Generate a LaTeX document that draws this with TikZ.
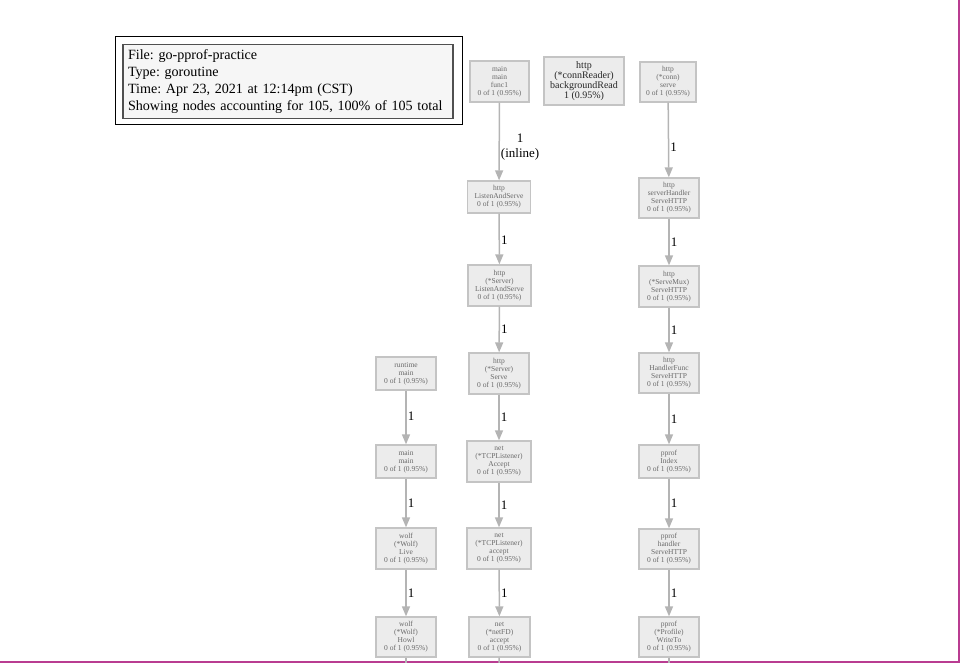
\documentclass[tikz,border=0pt]{standalone}
\usepackage{fontspec}
\setmainfont{Liberation Serif}
\usetikzlibrary{arrows.meta}
\definecolor{edgegray}{RGB}{180,180,180}
\definecolor{nodefill}{RGB}{236,236,236}
\definecolor{nodeborder}{RGB}{196,196,196}
\definecolor{nodetext}{RGB}{105,105,105}
\definecolor{pagemag}{RGB}{185,60,145}
\definecolor{legfill}{RGB}{246,246,246}
\definecolor{legborder}{RGB}{80,80,80}
\frenchspacing
\begin{document}
\begin{tikzpicture}[x=1pt,y=-1pt,
  fn/.style={draw=nodeborder, fill=nodefill, line width=1.3pt, text=nodetext,
    font=\fontsize{7.5}{8}\selectfont, align=center, inner sep=0pt, minimum width=60pt},
  callarrow/.style={draw=edgegray, line width=1.5pt, -{Triangle[width=8pt,length=10pt]}},
  tailline/.style={draw=edgegray, line width=1.5pt},
  lbl/.style={anchor=west, inner sep=1pt, font=\fontsize{13}{15}\selectfont, text=black, align=center}]
\useasboundingbox (0,0) rectangle (960,663);
% page border
\coordinate (pg0) at (959,0);
\coordinate (pg1) at (959,662);
\coordinate (pg2) at (0,662);
\draw[pagemag, line width=1.5pt] (pg0) -- (pg1) -- (pg2);
% legend
\node[draw=black, line width=1pt, minimum width=347pt, minimum height=88pt, inner sep=0pt] (legout) at (288.5,81) {};
\node[draw=legborder, fill=legfill, line width=1.5pt, minimum height=74pt, text width=320pt,
  inner xsep=5pt, inner ysep=0pt, align=left, font=\fontsize{14.1}{16.8}\selectfont] (legin) at (288,81.5)
  {File: go-pprof-practice\\Type: goroutine\\Time: Apr 23, 2021 at 12:14pm (CST)\\Showing nodes accounting for 105, 100\% of 105 total};
% middle column
\node[fn, minimum width=59pt, minimum height=41pt] (m1) at (499.5,81.5) {main\\main\\func1\\0 of 1 (0.95\%)};
\node[fn, minimum width=63pt, minimum height=32pt] (m2) at (499,197) {http\\ListenAndServe\\0 of 1 (0.95\%)};
\node[fn, minimum width=63pt, minimum height=41pt] (m3) at (499.5,285.5) {http\\(*Server)\\ListenAndServe\\0 of 1 (0.95\%)};
\node[fn, minimum width=60pt, minimum height=41pt] (m4) at (499,373.5) {http\\(*Server)\\Serve\\0 of 1 (0.95\%)};
\node[fn, minimum width=64pt, minimum height=41pt] (m5) at (499,461.5) {net\\(*TCPListener)\\Accept\\0 of 1 (0.95\%)};
\node[fn, minimum width=64pt, minimum height=41pt] (m6) at (499,548.5) {net\\(*TCPListener)\\accept\\0 of 1 (0.95\%)};
\node[fn, minimum width=61pt, minimum height=40pt] (m7) at (499.5,637) {net\\(*netFD)\\accept\\0 of 1 (0.95\%)};
% left column
\node[fn, minimum height=33pt] (l1) at (406,373.5) {runtime\\main\\0 of 1 (0.95\%)};
\node[fn, minimum height=33pt] (l2) at (406,461.5) {main\\main\\0 of 1 (0.95\%)};
\node[fn, minimum height=41pt] (l3) at (406,548.5) {wolf\\(*Wolf)\\Live\\0 of 1 (0.95\%)};
\node[fn, minimum height=40pt] (l4) at (406,637) {wolf\\(*Wolf)\\Howl\\0 of 1 (0.95\%)};
% right column
\node[fn, minimum width=56pt, minimum height=40pt] (r1) at (668,82) {http\\(*conn)\\serve\\0 of 1 (0.95\%)};
\node[fn, minimum height=40pt] (r2) at (669,198) {http\\serverHandler\\ServeHTTP\\0 of 1 (0.95\%)};
\node[fn, minimum height=41pt] (r3) at (669,286.5) {http\\(*ServeMux)\\ServeHTTP\\0 of 1 (0.95\%)};
\node[fn, minimum height=40pt] (r4) at (669,373) {http\\HandlerFunc\\ServeHTTP\\0 of 1 (0.95\%)};
\node[fn, minimum height=33pt] (r5) at (669,461.5) {pprof\\Index\\0 of 1 (0.95\%)};
\node[fn, minimum height=40pt] (r6) at (669,549) {pprof\\handler\\ServeHTTP\\0 of 1 (0.95\%)};
\node[fn, minimum height=40pt] (r7) at (669,637) {pprof\\(*Profile)\\WriteTo\\0 of 1 (0.95\%)};
% top lone node
\node[fn, text=black!85, minimum width=80pt, minimum height=48pt, font=\fontsize{10}{10}\selectfont] (c1) at (584,81)
  {http\\(*connReader)\\backgroundRead\\1 (0.95\%)};
% free ends at the bottom
\coordinate (mend) at (499,663);
\coordinate (lend) at (406,663);
\coordinate (rend) at (669,663);
% edges middle
\draw[callarrow] (m1) -- node[lbl, pos=0.57] {1\\(inline)} (m2);
\draw[callarrow] (m2) -- node[lbl, pos=0.53] {1} (m3);
\draw[callarrow] (m3) -- node[lbl, pos=0.5] {1} (m4);
\draw[callarrow] (m4) -- node[lbl, pos=0.5] {1} (m5);
\draw[callarrow] (m5) -- node[lbl, pos=0.5] {1} (m6);
\draw[callarrow] (m6) -- node[lbl, pos=0.5] {1} (m7);
\draw[tailline] (m7) -- (mend);
% edges left
\draw[callarrow] (l1) -- node[lbl, pos=0.47] {1} (l2);
\draw[callarrow] (l2) -- node[lbl, pos=0.5] {1} (l3);
\draw[callarrow] (l3) -- node[lbl, pos=0.5] {1} (l4);
\draw[tailline] (l4) -- (lend);
% edges right
\draw[callarrow] (r1) -- node[lbl, pos=0.59] {1} (r2);
\draw[callarrow] (r2) -- node[lbl, pos=0.5] {1} (r3);
\draw[callarrow] (r3) -- node[lbl, pos=0.5] {1} (r4);
\draw[callarrow] (r4) -- node[lbl, pos=0.5] {1} (r5);
\draw[callarrow] (r5) -- node[lbl, pos=0.5] {1} (r6);
\draw[callarrow] (r6) -- node[lbl, pos=0.5] {1} (r7);
\draw[tailline] (r7) -- (rend);
\end{tikzpicture}
\end{document}
